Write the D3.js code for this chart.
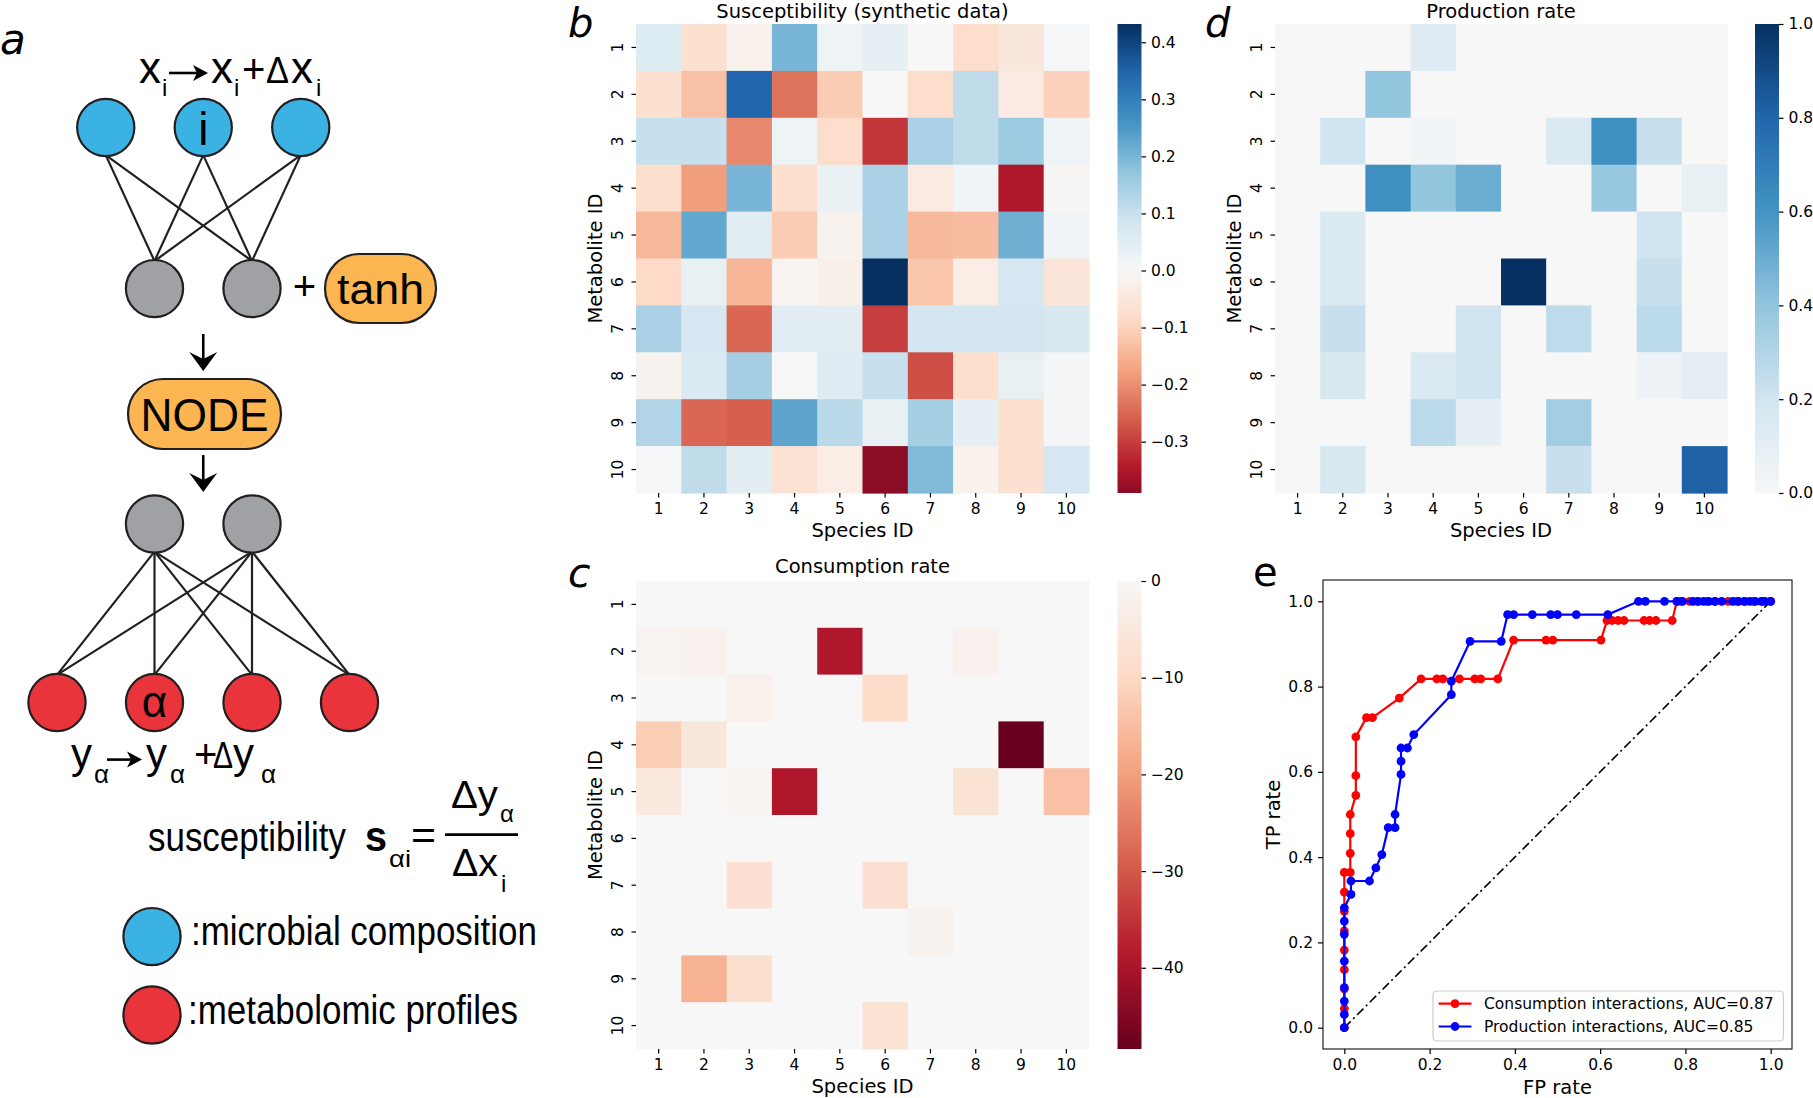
<!DOCTYPE html>
<html><head><meta charset="utf-8">
<script src="https://cdn.jsdelivr.net/npm/d3@7"></script>
<style>body{margin:0;background:#fff}svg{display:block}</style>
</head><body><svg id="fig" width="1813" height="1098"></svg>
<script>
// ---------------- DATA ----------------
const species = [1,2,3,4,5,6,7,8,9,10];
const metabolites = [1,2,3,4,5,6,7,8,9,10];

// rows = metabolite ID 1..10, columns = species ID 1..10
const susceptibility = [
  [0.06,-0.07,-0.02,0.20,0.02,0.04,0.00,-0.08,-0.05,0.005],
  [-0.07,-0.13,0.345,-0.235,-0.11,0.00,-0.08,0.11,-0.04,-0.10],
  [0.10,0.10,-0.21,0.02,-0.08,-0.31,0.14,0.11,0.16,0.02],
  [-0.075,-0.18,0.20,-0.075,0.03,0.14,-0.04,0.015,-0.35,-0.005],
  [-0.14,0.225,0.05,-0.11,-0.015,0.14,-0.14,-0.135,0.21,0.015],
  [-0.085,0.035,-0.145,-0.01,-0.025,0.432,-0.12,-0.03,0.075,-0.055],
  [0.14,0.075,-0.25,0.05,0.05,-0.30,0.08,0.08,0.08,0.07],
  [-0.015,0.065,0.145,0.0,0.055,0.10,-0.28,-0.075,0.035,0.01],
  [0.13,-0.25,-0.26,0.23,0.12,0.035,0.145,0.04,-0.075,0.01],
  [0.005,0.11,0.045,-0.065,-0.03,-0.39,0.19,-0.02,-0.07,0.075]
];
const consumption = [
  [0,0,0,0,0,0,0,0,0,0],
  [-1.5,-2,0,0,-39,0,0,-2,0,0],
  [0,0,-2.5,0,0,-9,0,0,0,0],
  [-12,-5.5,0,0,0,0,0,0,-48.4,0],
  [-5,0,-1.2,-39,0,0,0,-7,0,-14.5],
  [0,0,-0.3,0,0,0,0,0,0,0],
  [0,0,-7.5,0,0,-7.5,0,0,0,0],
  [0,0,0,0,0,0,-1.8,0,0,0],
  [0,-17,-8,0,0,0,0,0,0,0],
  [0,0,0,0,0,-7,0,0,0,0]
];
const production = [
  [0,0,0,0.13,0,0,0,0,0,0],
  [0,0,0.4,0,0,0,0,0,0,0],
  [0,0.2,0,0.03,0,0,0.15,0.62,0.23,0],
  [0,0,0.62,0.4,0.5,0,0,0.38,0,0.08],
  [0,0.15,0,0,0,0,0,0,0.2,0],
  [0,0.15,0,0,0,1.0,0,0,0.23,0],
  [0,0.23,0,0,0.2,0,0.26,0,0.27,0],
  [0,0.17,0,0.15,0.2,0,0,0,0.06,0.1],
  [0,0,0,0.27,0.09,0,0.35,0,0,0],
  [0,0.17,0,0,0,0,0.23,0,0,0.82]
];

const susceptibilityTicks = [-0.3,-0.2,-0.1,0,0.1,0.2,0.3,0.4];
const consumptionTicks = [-40,-30,-20,-10,0];
const productionTicks = [0,0.2,0.4,0.6,0.8,1.0];

// ROC curves
const consFPR = [0,0,0,0,0,0,0,0,0,0.014,0.014,0.014,0.014,0.027,0.027,0.027,0.052,0.066,0.129,
  0.18,0.217,0.231,0.27,0.306,0.32,0.36,0.397,0.473,0.489,0.602,
  0.616,0.628,0.642,0.656,0.703,0.716,0.731,0.769,
  0.78,0.79,0.81,0.83,0.85,0.87,0.90,0.92,0.94,0.96,0.98,1.0];
const consTPR = [0,0.045,0.091,0.136,0.182,0.227,0.273,0.318,0.364,0.364,0.409,0.455,0.5,0.545,0.591,0.682,0.727,0.727,0.773,
  0.818,0.818,0.818,0.818,0.818,0.818,0.818,0.909,0.909,0.909,0.909,
  0.955,0.955,0.955,0.955,0.955,0.955,0.955,0.955,
  1,1,1,1,1,1,1,1,1,1,1,1];
const prodFPR = [0,0,0,0,0,0,0,0,0.0156,0.0156,0.059,0.074,0.088,0.103,0.119,0.119,0.133,0.133,0.133,0.148,0.163,
  0.251,0.251,0.295,0.368,0.383,0.397,0.441,0.484,0.5,0.544,0.618,
  0.69,0.706,0.751,0.78,0.793,0.818,0.829,0.842,0.855,0.869,0.885,0.911,0.925,0.938,0.951,0.964,0.978,0.987,1.0];
const prodTPR = [0,0.031,0.0625,0.094,0.156,0.219,0.25,0.281,0.3125,0.344,0.344,0.375,0.406,0.469,0.469,0.5,0.594,0.625,0.656,0.656,0.6875,
  0.781,0.8125,0.906,0.906,0.969,0.969,0.969,0.969,0.969,0.969,0.969,
  1,1,1,1,1,1,1,1,1,1,1,1,1,1,1,1,1,1,1];
const rocTicks = [0,0.2,0.4,0.6,0.8,1.0];
const rocLegend = ["Consumption interactions, AUC=0.87","Production interactions, AUC=0.85"];

// ---------------- HELPERS ----------------
const svg = d3.select("#fig");
svg.append("rect").attr("width",1813).attr("height",1098).attr("fill","#fff");
const MPL = "'DejaVu Sans', sans-serif";
const SANS = "'Liberation Sans', Arial, sans-serif";
const INK = "#231f20";
const TICK = 15.5, LABEL = 19.5;
const rdbuStops = ["#67001f","#b2182b","#d6604d","#f4a582","#fddbc7","#f7f7f7","#d1e5f0","#92c5de","#4393c3","#2166ac","#053061"];
const rdbu = d3.scaleLinear().domain(d3.range(11).map(i=>i/10)).range(rdbuStops).interpolate(d3.interpolateRgb).clamp(true);
const fmtMinus = f => v => f(v).replace("-", "\u2212");

function txt(g, x, y, s, size, o={}) {
  const t = g.append("text").attr("x",x).attr("y",y).text(s)
    .attr("font-size",size).attr("font-family",o.family||SANS).attr("fill",o.fill||"#000");
  if (o.anchor) t.attr("text-anchor",o.anchor);
  if (o.style) t.attr("font-style",o.style);
  if (o.weight) t.attr("font-weight",o.weight);
  if (o.len) t.attr("textLength",o.len).attr("lengthAdjust","spacingAndGlyphs");
  if (o.rotate) t.attr("transform",`rotate(${o.rotate},${x},${y})`);
  return t;
}
function rich(g, pieces) {
  const t = g.append("text").attr("font-family",SANS).attr("fill","#000");
  pieces.forEach(([x,y,s,size,ex={}]) => {
    const sp = t.append("tspan").attr("x",x).attr("y",y).attr("font-size",size).text(s);
    if (ex.len) sp.attr("textLength",ex.len).attr("lengthAdjust","spacingAndGlyphs");
    if (ex.weight) sp.attr("font-weight",ex.weight);
  });
  return t;
}

// ---------------- PANEL a (schematic) ----------------
const ga = svg.append("g");
const col = d3.scaleLinear().domain([0,3]).range([57,349.5]);
const R = 28.6;
const rowY = {blue:127.5, gray1:288.6, gray2:524, red:702.5};
const blueNodes = [0.5,1.5,2.5], grayNodes = [1,2], redNodes = [0,1,2,3];

const linesG = ga.append("g").attr("stroke",INK).attr("stroke-width",2.2);
blueNodes.forEach(b => grayNodes.forEach(c => linesG.append("line")
  .attr("x1",col(b)).attr("y1",rowY.blue+R-1).attr("x2",col(c)).attr("y2",rowY.gray1-R+1)));
grayNodes.forEach(c => redNodes.forEach(r => linesG.append("line")
  .attr("x1",col(c)).attr("y1",rowY.gray2+R-1).attr("x2",col(r)).attr("y2",rowY.red-R+1)));

function node(x,y,fill){ ga.append("circle").attr("cx",x).attr("cy",y).attr("r",R).attr("fill",fill).attr("stroke",INK).attr("stroke-width",2.2); }
const BLUE="#3bb2e4", GRAY="#a0a1a5", RED="#e9343c", ORANGE="#fbb651";
blueNodes.forEach(b=>node(col(b),rowY.blue,BLUE));
grayNodes.forEach(c=>node(col(c),rowY.gray1,GRAY));
grayNodes.forEach(c=>node(col(c),rowY.gray2,GRAY));
redNodes.forEach(r=>node(col(r),rowY.red,RED));
txt(ga, col(1.5), rowY.blue+17, "i", 46, {anchor:"middle"});
txt(ga, col(1), rowY.red+14, "\u03b1", 44, {anchor:"middle"});

function pill(x,y,w,h,label,size,len){
  ga.append("rect").attr("x",x).attr("y",y).attr("width",w).attr("height",h).attr("rx",h/2)
    .attr("fill",ORANGE).attr("stroke",INK).attr("stroke-width",2.2);
  txt(ga, x+w/2, y+h/2+size*0.36, label, size, {anchor:"middle", len});
}
txt(ga, 304.5, 300, "+", 40, {anchor:"middle"});
pill(325,254,111,69,"tanh",42,87);
pill(128,379,153,70,"NODE",46,128);

function downArrow(x,y1,y2){
  ga.append("line").attr("x1",x).attr("y1",y1).attr("x2",x).attr("y2",y2-8).attr("stroke","#000").attr("stroke-width",2.6);
  ga.append("path").attr("d",`M${x},${y2} L${x-14},${y2-19} L${x},${y2-12} L${x+14},${y2-19} Z`).attr("fill","#000");
}
downArrow(col(1.5),334,371);
downArrow(col(1.5),455,492);

function rightArrow(x1,x2,y){
  ga.append("line").attr("x1",x1).attr("y1",y).attr("x2",x2-8).attr("y2",y).attr("stroke","#000").attr("stroke-width",2.6);
  ga.append("path").attr("d",`M${x2},${y} L${x2-15},${y-8} L${x2-11},${y} L${x2-15},${y+8} Z`).attr("fill","#000");
}
rich(ga, [[139,83,"x",44],[162,96,"i",24]]);
rightArrow(169,208,73);
rich(ga, [[211,83,"x",44],[234,96,"i",24],[242,83,"+",40],[266,83,"\u0394",36,{len:23}],[291,83,"x",44],[316,96,"i",24]]);
rich(ga, [[71,768,"y",42],[94,783,"\u03b1",26]]);
rightArrow(107,142,759.6);
rich(ga, [[146,768,"y",42],[170,783,"\u03b1",26],[194,768,"+",40],[213,768,"\u0394",36,{len:20}],[233,768,"y",42],[261,783,"\u03b1",26]]);
rich(ga, [[148,851,"susceptibility",40,{len:198}],[365,851,"s",42,{weight:"bold",len:22}],[389,867,"\u03b1i",24,{len:22}],[411,849,"=",40,{len:25}]]);
ga.append("line").attr("x1",445).attr("x2",518).attr("y1",834.6).attr("y2",834.6).attr("stroke","#000").attr("stroke-width",2.6);
rich(ga, [[451,808,"\u0394y",38,{len:47}],[500,822,"\u03b1",24]]);
rich(ga, [[452,876,"\u0394x",38,{len:46}],[501,892,"i",24]]);
node(152,936.6,BLUE); node(152,1015,RED);
txt(ga,191,945,":microbial composition",40,{len:346});
txt(ga,188,1024,":metabolomic profiles",40,{len:330});
txt(ga,0,54,"a",42,{family:MPL,style:"italic"});

// ---------------- HEATMAPS ----------------
function heatmap(cfg){
  const {id,data,x0,x1,y0,y1,color,title,titleY,cbX,cbDomain,cbTicks,cbFormat} = cfg;
  const g = svg.append("g");
  const x = d3.scaleBand().domain(species).range([x0,x1]);
  const y = d3.scaleBand().domain(metabolites).range([y0,y1]);
  const cells = [];
  data.forEach((row,i)=>row.forEach((v,j)=>cells.push({m:metabolites[i],s:species[j],v})));
  g.selectAll("rect.cell").data(cells).join("rect").attr("class","cell")
    .attr("x",d=>x(d.s)).attr("y",d=>y(d.m))
    .attr("width",x.bandwidth()+0.6).attr("height",y.bandwidth()+0.6)
    .attr("fill",d=>color(d.v));
  const ax = g.append("g").attr("transform",`translate(0,${y1})`)
    .call(d3.axisBottom(x).tickSize(4.5).tickPadding(5));
  ax.select(".domain").remove();
  ax.selectAll("line").attr("stroke","#000").attr("stroke-width",1.2);
  ax.selectAll("text").attr("font-size",TICK).attr("font-family",MPL).attr("fill","#000");
  const ay = g.append("g").attr("transform",`translate(${x0},0)`)
    .call(d3.axisLeft(y).tickSize(4.5).tickFormat(""));
  ay.select(".domain").remove();
  ay.selectAll("line").attr("stroke","#000").attr("stroke-width",1.2);
  metabolites.forEach(m=>{
    const cy = y(m)+y.bandwidth()/2, cx = x0-18;
    g.append("text").attr("transform",`translate(${cx},${cy}) rotate(-90)`)
      .attr("text-anchor","middle").attr("dy","0.35em")
      .attr("font-size",TICK).attr("font-family",MPL).text(m);
  });
  txt(g,(x0+x1)/2,y1+44,"Species ID",LABEL,{family:MPL,anchor:"middle"});
  txt(g,x0-34,(y0+y1)/2,"Metabolite ID",LABEL,{family:MPL,anchor:"middle",rotate:-90});
  txt(g,(x0+x1)/2,titleY,title,LABEL,{family:MPL,anchor:"middle"});
  const cb = d3.scaleLinear().domain(cbDomain).range([y1,y0]);
  const grad = svg.append("defs").append("linearGradient").attr("id",id)
    .attr("x1",0).attr("x2",0).attr("y1",1).attr("y2",0);
  d3.range(0,1.0001,0.02).forEach(f=>grad.append("stop").attr("offset",f)
    .attr("stop-color",color(cbDomain[0]+f*(cbDomain[1]-cbDomain[0]))));
  g.append("rect").attr("x",cbX).attr("y",y0).attr("width",24).attr("height",y1-y0).attr("fill",`url(#${id})`);
  const ac = g.append("g").attr("transform",`translate(${cbX+24},0)`)
    .call(d3.axisRight(cb).tickValues(cbTicks).tickSize(4.5).tickPadding(5).tickFormat(cbFormat));
  ac.select(".domain").remove();
  ac.selectAll("line").attr("stroke","#000").attr("stroke-width",1.2);
  ac.selectAll("text").attr("font-size",TICK).attr("font-family",MPL).attr("fill","#000");
}

const sMax = d3.max(susceptibility.flat()), sMin = d3.min(susceptibility.flat());
const sRange = Math.max(sMax,-sMin);
heatmap({id:"gb",data:susceptibility,x0:636,x1:1089,y0:24,y1:493,
  color:v=>rdbu(0.5+v/(2*sRange)),title:"Susceptibility (synthetic data)",titleY:17.5,
  cbX:1117.5,cbDomain:[sMin,sMax],cbTicks:susceptibilityTicks,cbFormat:fmtMinus(d3.format(".1f"))});
const cMin = d3.min(consumption.flat());
heatmap({id:"gc",data:consumption,x0:636,x1:1089,y0:581,y1:1049,
  color:v=>rdbu(0.5+v/(2*-cMin)),title:"Consumption rate",titleY:573,
  cbX:1117.5,cbDomain:[cMin,0],cbTicks:consumptionTicks,cbFormat:fmtMinus(d3.format("d"))});
const pMax = d3.max(production.flat());
heatmap({id:"gd",data:production,x0:1275,x1:1727,y0:24,y1:493,
  color:v=>rdbu(0.5+v/(2*pMax)),title:"Production rate",titleY:17.5,
  cbX:1755,cbDomain:[0,pMax],cbTicks:productionTicks,cbFormat:d3.format(".1f")});

txt(svg,568,37,"b",40,{family:MPL,style:"italic"});
txt(svg,568,587,"c",41,{family:MPL,style:"italic"});
txt(svg,1205,37,"d",40,{family:MPL,style:"italic"});
txt(svg,1253,586,"e",40,{family:MPL});

// ---------------- PANEL e (ROC) ----------------
const ge = svg.append("g");
const ex = d3.scaleLinear().domain([-0.05,1.05]).range([1323,1792]);
const ey = d3.scaleLinear().domain([-0.05,1.05]).range([1049,580]);
ge.append("line").attr("x1",ex(0)).attr("y1",ey(0)).attr("x2",ex(1)).attr("y2",ey(1))
  .attr("stroke","#000").attr("stroke-width",1.6).attr("stroke-dasharray","9,3.5,2,3.5");
function roc(fpr,tpr,c){
  const pts = fpr.map((f,i)=>[f,tpr[i]]);
  ge.append("path").attr("d",d3.line().x(d=>ex(d[0])).y(d=>ey(d[1]))(pts))
    .attr("fill","none").attr("stroke",c).attr("stroke-width",2.2);
  ge.append("g").selectAll("circle").data(pts).join("circle")
    .attr("cx",d=>ex(d[0])).attr("cy",d=>ey(d[1])).attr("r",4.4).attr("fill",c);
}
roc(consFPR,consTPR,"#ff0000");
roc(prodFPR,prodTPR,"#0000ff");
ge.append("rect").attr("x",1323).attr("y",580).attr("width",469).attr("height",469)
  .attr("fill","none").attr("stroke","#222").attr("stroke-width",1.2);
const axE = ge.append("g").attr("transform","translate(0,1049)")
  .call(d3.axisBottom(ex).tickValues(rocTicks).tickSize(5).tickPadding(5).tickFormat(d3.format(".1f")));
const ayE = ge.append("g").attr("transform","translate(1323,0)")
  .call(d3.axisLeft(ey).tickValues(rocTicks).tickSize(5).tickPadding(5).tickFormat(d3.format(".1f")));
[axE,ayE].forEach(a=>{a.select(".domain").remove();
  a.selectAll("line").attr("stroke","#000").attr("stroke-width",1.2);
  a.selectAll("text").attr("font-size",TICK).attr("font-family",MPL).attr("fill","#000");});
txt(ge,1557.5,1094,"FP rate",LABEL,{family:MPL,anchor:"middle"});
txt(ge,1280,814.5,"TP rate",LABEL,{family:MPL,anchor:"middle",rotate:-90});
ge.append("rect").attr("x",1433).attr("y",991).attr("width",350.5).attr("height",50).attr("rx",4)
  .attr("fill","#fff").attr("fill-opacity",0.8).attr("stroke","#cccccc").attr("stroke-width",1.2);
[["#ff0000",1003.7],["#0000ff",1026.5]].forEach(([c,yy],i)=>{
  ge.append("line").attr("x1",1438.6).attr("x2",1471.5).attr("y1",yy).attr("y2",yy).attr("stroke",c).attr("stroke-width",2.2);
  ge.append("circle").attr("cx",1455).attr("cy",yy).attr("r",4.4).attr("fill",c);
  txt(ge,1484,yy+5.6,rocLegend[i],15.5,{family:MPL});
});
</script></body></html>
